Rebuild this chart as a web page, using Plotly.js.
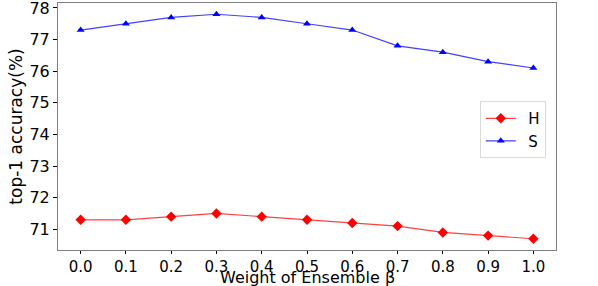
<!DOCTYPE html>
<html><head><meta charset="utf-8">
<script src="https://cdn.plot.ly/plotly-3.0.1.min.js"></script>
<style>html,body{margin:0;padding:0;background:#fff}#c{width:598px;height:286px}</style>
</head><body><div id="c"></div>
<script>
const beta = [0.0, 0.1, 0.2, 0.3, 0.4, 0.5, 0.6, 0.7, 0.8, 0.9, 1.0];
const H = [71.3, 71.3, 71.4, 71.5, 71.4, 71.3, 71.2, 71.1, 70.9, 70.8, 70.7];
const S = [77.3, 77.5, 77.7, 77.8, 77.7, 77.5, 77.3, 76.8, 76.6, 76.3, 76.1];
const xTicks = [0.0, 0.1, 0.2, 0.3, 0.4, 0.5, 0.6, 0.7, 0.8, 0.9, 1.0];
const yTicks = [71, 72, 73, 74, 75, 76, 77, 78];

const font = {family: 'DejaVu Sans', size: 16, color: '#000'};
const xfont = {family: 'DejaVu Sans', size: 15, color: '#000'};
const traces = [
  {x: beta, y: H, name: '\u2002H', mode: 'lines+markers', type: 'scatter',
   line: {color: 'rgba(255,0,0,0.75)', width: 1.2},
   marker: {symbol: 'diamond', size: 8, color: '#ff0000'}},
  {x: beta, y: S, name: '\u2002S', mode: 'lines+markers', type: 'scatter',
   line: {color: 'rgba(0,0,255,0.75)', width: 1.2},
   marker: {symbol: 'triangle-up', size: 7, color: '#0000ff'}}
];
const layout = {
  width: 598, height: 286,
  margin: {l: 58, r: 42, t: 3, b: 36},
  paper_bgcolor: '#fff', plot_bgcolor: '#fff',
  font: font,
  showlegend: true,
  legend: {x: 0.847, y: 0.603, xanchor: 'left', yanchor: 'top',
    bordercolor: '#d9d9d9', borderwidth: 1, bgcolor: 'rgba(255,255,255,0.8)',
    font: {family: 'DejaVu Sans', size: 15, color: '#000'}, tracegroupgap: 0},
  xaxis: {range: [-0.05, 1.05], tickvals: xTicks, ticktext: xTicks.map(v => v.toFixed(1)),
    showgrid: false, zeroline: false, showline: true, mirror: true, linecolor: '#808080', linewidth: 1,
    ticks: 'outside', ticklen: 3, tickcolor: '#000', tickfont: xfont, automargin: false},
  yaxis: {range: [70.345, 78.155], tickvals: yTicks, ticklabeloverflow: 'allow',
    showgrid: false, zeroline: false, showline: true, mirror: true, linecolor: '#808080', linewidth: 1,
    ticks: 'outside', ticklen: 4, tickcolor: '#000', tickfont: font, automargin: false,
    title: {text: 'top-1 accuracy(%)', font: {family: 'DejaVu Sans', size: 17, color: '#000'}, standoff: 2}},
  annotations: [{text: 'Weight of Ensemble β', xref: 'paper', yref: 'paper', x: 0.5, y: 0, yshift: -27,
    xanchor: 'center', yanchor: 'middle', showarrow: false,
    font: {family: 'DejaVu Sans', size: 16, color: '#000'}}]
};
Plotly.newPlot('c', traces, layout, {displayModeBar: false});
</script></body></html>
